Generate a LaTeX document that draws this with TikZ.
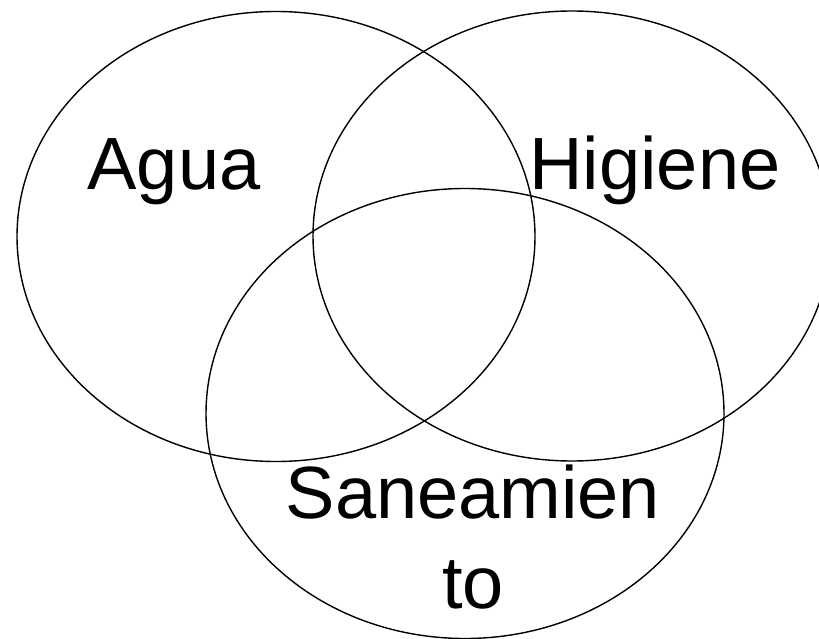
\documentclass[tikz,border=0pt]{standalone}
\usepackage{fontspec}
\setmainfont{Liberation Sans}
\usetikzlibrary{shapes.geometric}
\begin{document}
\begin{tikzpicture}[x=1pt,y=-1pt,
  setellipse/.style={draw=black, line width=1.4pt, ellipse, inner sep=0pt,
    minimum width=518pt, minimum height=450pt},
  lbl/.style={font=\fontsize{74}{89}\selectfont, inner sep=0pt, anchor=base}]
\useasboundingbox (0,0) rectangle (819,639);
\node[setellipse] (agua) at (276,236.5) {};
\node[setellipse] (higiene) at (572,236) {};
\node[setellipse] (san) at (465,413.5) {};
\node[lbl] (tagua) at (174,190) {Agua};
\node[lbl] (thig) at (655,190) {Higiene};
\node[lbl] (tsan1) at (473,518) {Saneamien};
\node[lbl] (tsan2) at (473,608) {to};
\end{tikzpicture}
\end{document}
